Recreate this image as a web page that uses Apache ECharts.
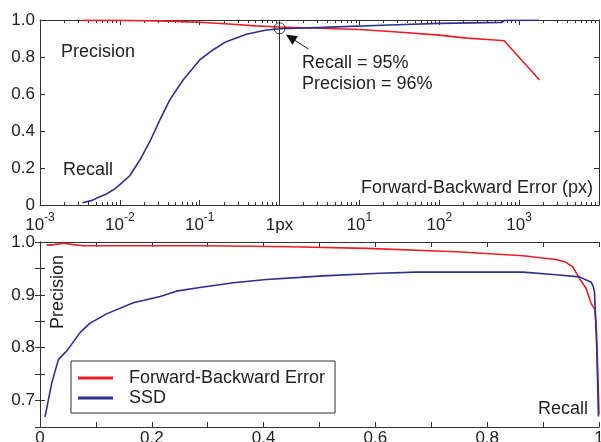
<!DOCTYPE html>
<html><head><meta charset="utf-8">
<script src="https://cdn.jsdelivr.net/npm/echarts@6/dist/echarts.min.js"></script>
<style>html,body{margin:0;padding:0;background:#fff}#c{width:601px;height:442px}</style>
</head><body><div id="c"></div>
<script>
// ---- Top panel: threshold on forward-backward error (px) ----
const topPrecErr = [0.0034, 0.006, 0.01, 0.02, 0.04, 0.07, 0.1, 0.26, 0.5, 1, 2, 5, 10, 30, 100, 220, 450, 650, 1800];
const topPrecVal = [0.998, 0.999, 0.998, 0.996, 0.994, 0.99, 0.988, 0.977, 0.968, 0.962, 0.958, 0.953, 0.949, 0.935, 0.918, 0.902, 0.893, 0.888, 0.676];
const topRecErr = [0.0034, 0.0045, 0.0056, 0.0068, 0.0082, 0.01, 0.0133, 0.0178, 0.0237, 0.0316, 0.0422, 0.0619, 0.1, 0.146, 0.215, 0.383, 0.681, 1, 3.5, 23.7, 100, 610, 660, 1800];
const topRecVal = [0.012, 0.025, 0.045, 0.06, 0.081, 0.11, 0.158, 0.243, 0.342, 0.459, 0.568, 0.676, 0.784, 0.838, 0.883, 0.923, 0.946, 0.953, 0.96, 0.973, 0.982, 0.987, 0.998, 0.999];
const opPoint = [1, 0.955];
const topMajorTicks = [1e-3, 1e-2, 1e-1, 1, 10, 100, 1000, 10000];
const topLabelTicks = [1e-3, 1e-2, 1e-1, 1, 10, 100, 1000];
// ---- Bottom panel: precision vs recall ----
const fbRecall = [0.012, 0.025, 0.042, 0.06, 0.077, 0.2, 0.3, 0.447, 0.584, 0.745, 0.864, 0.923, 0.94, 0.953, 0.965, 0.977, 0.986, 0.992, 0.995, 0.998, 1.0];
const fbPrecision = [0.994, 0.995, 0.9975, 0.995, 0.993, 0.993, 0.993, 0.991, 0.988, 0.9815, 0.974, 0.967, 0.962, 0.953, 0.931, 0.912, 0.883, 0.874, 0.846, 0.75, 0.674];
const ssdRecall = [0.009, 0.021, 0.033, 0.048, 0.072, 0.089, 0.119, 0.167, 0.215, 0.244, 0.286, 0.346, 0.405, 0.465, 0.506, 0.608, 0.673, 0.864, 0.923, 0.965, 0.986, 0.99, 0.992, 0.996, 0.999];
const ssdPrecision = [0.669, 0.733, 0.778, 0.794, 0.829, 0.846, 0.864, 0.885, 0.897, 0.907, 0.914, 0.923, 0.929, 0.933, 0.936, 0.941, 0.943, 0.943, 0.938, 0.934, 0.924, 0.915, 0.905, 0.8, 0.67];

const minorTicks = [];
for (let e = -3; e < 4; e++) for (let m = 2; m <= 9; m++) minorTicks.push(m * Math.pow(10, e));

function zip(a, b) { return a.map((v, i) => [v, b[i]]); }
const RED = '#ee1d25', BLUE = '#2a3192', INK = '#222', FONT = 'Liberation Sans';
const axisLine = { show: true, lineStyle: { color: '#333', width: 1 } };

const chart = echarts.init(document.getElementById('c'));
chart.setOption({
  animation: false,
  backgroundColor: '#fff',
  textStyle: { fontFamily: FONT },
  grid: [
    { left: 40, top: 20, width: 559, height: 185, outerBoundsMode: 'none', containLabel: false },
    { left: 40, top: 242, width: 559, height: 185, outerBoundsMode: 'none', containLabel: false }
  ],
  xAxis: [
    { type: 'log', logBase: 10, gridIndex: 0, position: 'bottom', min: 1e-3, max: 1e4,
      axisLine: axisLine, splitLine: { show: false },
      axisTick: { inside: true, length: 5, customValues: topMajorTicks, lineStyle: { color: '#333' } },
      axisLabel: { customValues: topLabelTicks, margin: 7, color: INK,
        formatter: function (v) { const e = Math.round(Math.log10(v)); return e === 0 ? '{b|1px}' : '{b|10}{s|' + e + '}'; },
        rich: { b: { fontSize: 17, lineHeight: 22, verticalAlign: 'bottom', color: INK, fontFamily: FONT },
                s: { fontSize: 12, lineHeight: 12, verticalAlign: 'top', color: INK, fontFamily: FONT } } } },
    { type: 'log', logBase: 10, gridIndex: 0, position: 'bottom', min: 1e-3, max: 1e4,
      axisLine: { show: false }, splitLine: { show: false }, axisLabel: { show: false },
      axisTick: { inside: true, length: 3, customValues: minorTicks, lineStyle: { color: '#333' } } },
    { type: 'log', logBase: 10, gridIndex: 0, position: 'top', min: 1e-3, max: 1e4,
      axisLine: axisLine, splitLine: { show: false }, axisLabel: { show: false },
      axisTick: { inside: true, length: 5, customValues: topMajorTicks, lineStyle: { color: '#333' } } },
    { type: 'log', logBase: 10, gridIndex: 0, position: 'top', min: 1e-3, max: 1e4,
      axisLine: { show: false }, splitLine: { show: false }, axisLabel: { show: false },
      axisTick: { inside: true, length: 3, customValues: minorTicks, lineStyle: { color: '#333' } } },
    { type: 'value', gridIndex: 1, position: 'bottom', min: 0, max: 1, interval: 0.1,
      axisLine: axisLine, splitLine: { show: false },
      axisTick: { inside: true, length: 5, lineStyle: { color: '#333' } },
      axisLabel: { margin: 3, fontSize: 17, color: INK, showMaxLabel: true,
        formatter: function (v) { const k = Math.round(v * 10); if (k % 2) return ''; return k === 0 ? '0' : (k === 10 ? '1' : (k / 10).toFixed(1)); } } },
    { type: 'value', gridIndex: 1, position: 'top', min: 0, max: 1, interval: 0.1,
      axisLine: axisLine, splitLine: { show: false }, axisLabel: { show: false },
      axisTick: { inside: true, length: 5, lineStyle: { color: '#333' } } }
  ],
  yAxis: [
    { type: 'value', gridIndex: 0, position: 'left', min: 0, max: 1, interval: 0.2,
      axisLine: axisLine, splitLine: { show: false },
      axisTick: { inside: true, length: 5, lineStyle: { color: '#333' } },
      axisLabel: { margin: 5, fontSize: 17, color: INK, formatter: v => v === 0 ? '0' : v.toFixed(1) } },
    { type: 'value', gridIndex: 0, position: 'right', min: 0, max: 1, interval: 0.2,
      axisLine: axisLine, splitLine: { show: false }, axisLabel: { show: false },
      axisTick: { inside: true, length: 5, lineStyle: { color: '#333' } } },
    { type: 'value', gridIndex: 1, position: 'left', min: 0.65, max: 1, interval: 0.05,
      axisLine: axisLine, splitLine: { show: false },
      axisTick: { inside: true, length: 5, lineStyle: { color: '#333' } },
      axisLabel: { margin: 5, fontSize: 17, color: INK,
        formatter: function (v) { const k = Math.round(v * 20); return k % 2 ? '' : (v).toFixed(1); } } },
    { type: 'value', gridIndex: 1, position: 'right', min: 0.65, max: 1, interval: 0.05,
      axisLine: axisLine, splitLine: { show: false }, axisLabel: { show: false },
      axisTick: { inside: true, length: 5, lineStyle: { color: '#333' } } }
  ],
  legend: {
    data: ['Forward-Backward Error', 'SSD'],
    orient: 'vertical', left: 71, top: 361,
    icon: 'rect', itemWidth: 35, itemHeight: 3, itemGap: 2,
    borderColor: '#333', borderWidth: 1, padding: [8, 10, 6, 7],
    textStyle: { fontSize: 18, lineHeight: 18, color: INK, fontFamily: FONT, padding: [0, 0, 0, 11] }
  },
  series: [
    { name: 'Precision', type: 'line', xAxisIndex: 0, yAxisIndex: 0, showSymbol: false,
      data: zip(topPrecErr, topPrecVal), lineStyle: { color: RED, width: 1.6 }, itemStyle: { color: RED },
      markLine: { silent: true, symbol: 'none', label: { show: false },
        lineStyle: { color: '#333', width: 1, type: 'solid' }, data: [{ xAxis: opPoint[0] }] } },
    { name: 'Recall', type: 'line', xAxisIndex: 0, yAxisIndex: 0, showSymbol: false,
      data: zip(topRecErr, topRecVal), lineStyle: { color: BLUE, width: 1.6 }, itemStyle: { color: BLUE },
      markLine: { silent: true, symbol: ['none', 'triangle'], symbolSize: [10, 11], label: { show: false },
        lineStyle: { color: '#111', width: 1, type: 'solid' }, itemStyle: { color: '#111' },
        data: [[{ coord: [2.3, 0.843] }, { coord: [1.37, 0.905] }]] } },
    { name: 'op', type: 'scatter', xAxisIndex: 0, yAxisIndex: 0, data: [opPoint],
      symbol: 'circle', symbolSize: 11, itemStyle: { color: 'rgba(0,0,0,0)', borderColor: '#111', borderWidth: 1 }, z: 5 },
    { name: 'Forward-Backward Error', type: 'line', xAxisIndex: 4, yAxisIndex: 2, showSymbol: false,
      data: zip(fbRecall, fbPrecision), lineStyle: { color: RED, width: 1.6 }, itemStyle: { color: RED } },
    { name: 'SSD', type: 'line', xAxisIndex: 4, yAxisIndex: 2, showSymbol: false,
      data: zip(ssdRecall, ssdPrecision), lineStyle: { color: BLUE, width: 1.6 }, itemStyle: { color: BLUE } }
  ],
  graphic: [
    { type: 'text', x: 61, y: 52, style: { text: 'Precision', fontSize: 18, fontFamily: FONT, fill: INK, verticalAlign: 'middle' } },
    { type: 'text', x: 63, y: 170, style: { text: 'Recall', fontSize: 18, fontFamily: FONT, fill: INK, verticalAlign: 'middle' } },
    { type: 'text', x: 593, y: 188, style: { text: 'Forward-Backward Error (px)', fontSize: 18, fontFamily: FONT, fill: INK, align: 'right', verticalAlign: 'middle' } },
    { type: 'text', x: 302, y: 63, style: { text: 'Recall = 95%', fontSize: 18, fontFamily: FONT, fill: INK, verticalAlign: 'middle' } },
    { type: 'text', x: 302, y: 84, style: { text: 'Precision = 96%', fontSize: 18, fontFamily: FONT, fill: INK, verticalAlign: 'middle' } },
    { type: 'text', x: 58, y: 292, rotation: Math.PI / 2, style: { text: 'Precision', fontSize: 18, fontFamily: FONT, fill: INK, align: 'center', verticalAlign: 'middle' } },
    { type: 'text', x: 588, y: 409, style: { text: 'Recall', fontSize: 18, fontFamily: FONT, fill: INK, align: 'right', verticalAlign: 'middle' } }
  ]
});
</script></body></html>
